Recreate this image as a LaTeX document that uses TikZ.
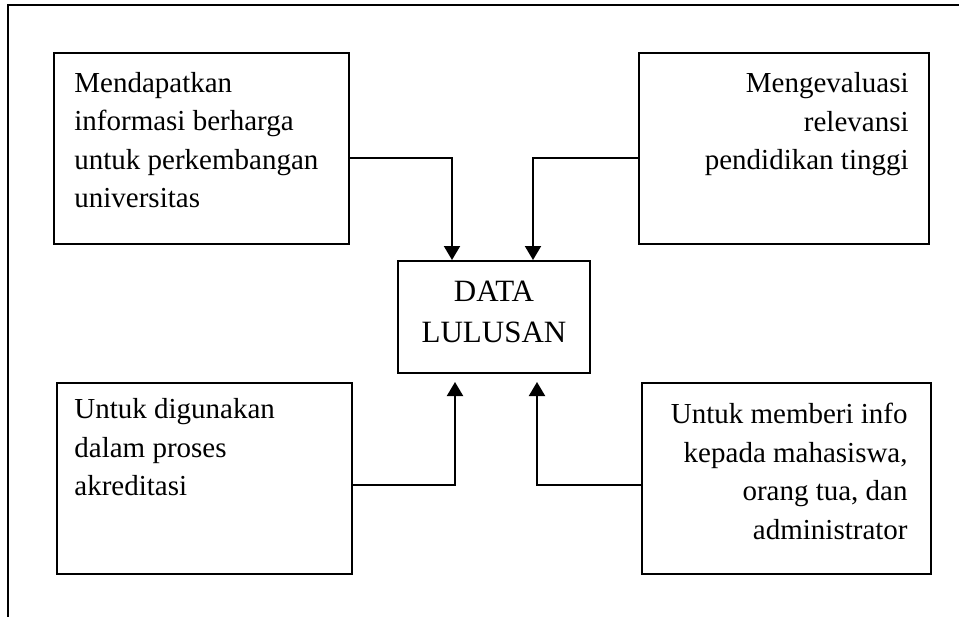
\documentclass[tikz,border=0pt]{standalone}
\usepackage{fontspec}
\setmainfont{Liberation Serif}
\usetikzlibrary{arrows.meta}

\tikzset{
  box/.style={draw,line width=1pt,inner sep=0pt,minimum height=95.5pt},
  txt/.style={inner sep=0pt,font=\fontsize{14.5}{19.25}\selectfont},
  flow/.style={-{Triangle[width=8pt,length=7pt]},line width=1pt}
}

\begin{document}
\begin{tikzpicture}[x=0.5pt,y=-0.5pt]
      \useasboundingbox (0,0) rectangle (959,617);
      \draw[line width=1pt] (959,5) -- (8,5) -- (8,617);
      % the four boxes and the centre
      \node[box,minimum width=147.5pt] (tl) at (201.5,148) {};
      \node[box,minimum width=145pt] (tr) at (784,148.5) {};
      \node[box,minimum width=147.5pt] (bl) at (204.5,478.5) {};
      \node[box,minimum width=144.5pt] (br) at (786.5,478.5) {};
      \node[box,minimum width=96pt,minimum height=56pt] (data) at (494,317) {};
      \node[inner sep=0pt,align=center,font=\fontsize{15.5}{20.5}\selectfont] (datatext) at ([yshift=2.5pt]data.center) {DATA\\LULUSAN};
      \node[txt,anchor=north west,align=left] (tltext) at ([xshift=10.5pt,yshift=-10pt]tl.north west) {Mendapatkan\\informasi berharga\\untuk perkembangan\\universitas};
      \node[txt,anchor=north east,align=right] (trtext) at ([xshift=-10.5pt,yshift=-10pt]tr.north east) {Mengevaluasi\\relevansi\\pendidikan tinggi};
      \node[txt,anchor=north west,align=left] (bltext) at ([xshift=9pt,yshift=-8pt]bl.north west) {Untuk digunakan\\dalam proses\\akreditasi};
      \node[txt,anchor=north east,align=right] (brtext) at ([xshift=-12pt,yshift=-10.5pt]br.north east) {Untuk memberi info\\kepada mahasiswa,\\orang tua, dan\\administrator};
      % arrows
      \coordinate (bltip) at (455,382);
      \coordinate (brtip) at (537,382);
      \draw[flow] (tl.east |- 0,158) -| (data.north -| 452,0);
      \draw[flow] (tr.west |- 0,158) -| (data.north -| 533,0);
      \draw[flow] (bl.east |- 0,485) -| (bltip);
      \draw[flow] (br.west |- 0,485) -| (brtip);
    \end{tikzpicture}
\end{document}
